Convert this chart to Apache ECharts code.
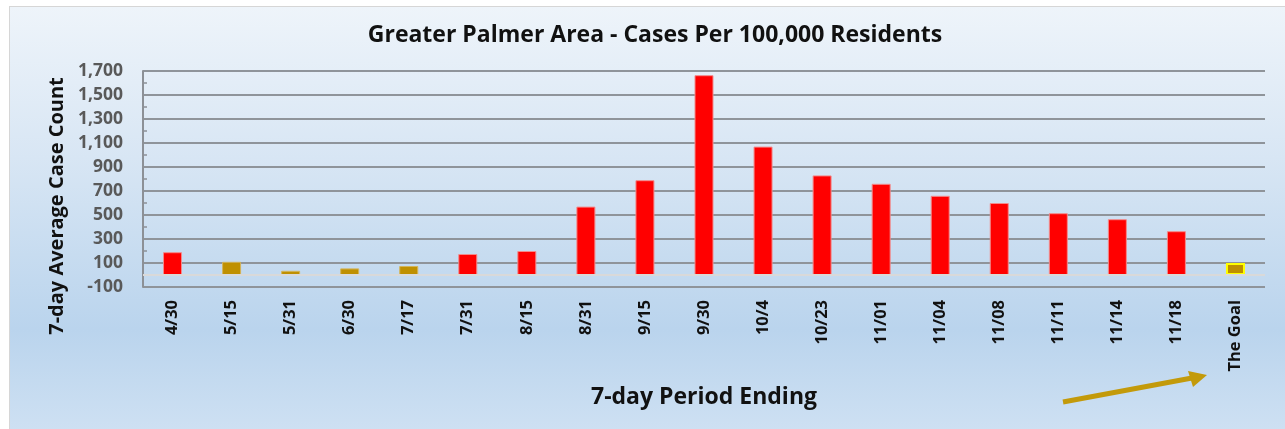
<!DOCTYPE html>
<html>
<head>
<meta charset="utf-8">
<script src="https://cdn.jsdelivr.net/npm/echarts@6/dist/echarts.min.js"></script>
<style>
  html, body { margin: 0; padding: 0; background: #ffffff; width: 1285px; height: 429px; overflow: hidden; }
  #bg { position: absolute; left: 9px; top: 6px; width: 1290px; height: 430px; border: 1px solid #d6d6d6;
        background: linear-gradient(to bottom, #eef4fa 0%, #d8e6f4 35%, #bad4ed 75%, #cfe1f3 100%); }
  #chart { position: absolute; left: 0; top: 0; width: 1285px; height: 429px; }
</style>
</head>
<body>
<div id="bg"></div>
<div id="chart"></div>
<script>
const categories = ['4/30','5/15','5/31','6/30','7/17','7/31','8/15','8/31','9/15','9/30','10/4','10/23','11/01','11/04','11/08','11/11','11/14','11/18','The Goal'];
const caseValues = [190,110,35,55,75,175,200,570,790,1665,1070,830,760,660,600,515,465,365,100];
const levels = ['high','low','low','low','low','high','high','high','high','high','high','high','high','high','high','high','high','high','goal'];
const yTicks = { min: -100, max: 1700, interval: 200 };

const styleByLevel = {
  high: { color: '#ff0000', borderColor: '#f28b8b', borderWidth: 1 },
  low:  { color: '#bf9000', borderColor: '#d3b45a', borderWidth: 1 },
  goal: { color: '#bf9000', borderColor: '#ffff00', borderWidth: 2 }
};

const chart = echarts.init(document.getElementById('chart'), null, { renderer: 'canvas' });
const FONT = '"Open Sans", Lato, sans-serif';

chart.setOption({
  backgroundColor: 'transparent',
  animation: false,
  title: {
    text: 'Greater Palmer Area - Cases Per 100,000 Residents',
    left: 650, top: 19, textAlign: 'center',
    textStyle: { fontFamily: FONT, fontWeight: 'bold', fontSize: 23, color: '#111111' }
  },
  grid: { left: 143, right: 20, top: 71, bottom: 142 },
  xAxis: {
    type: 'category',
    data: categories,
    name: '7-day Period Ending',
    nameLocation: 'middle',
    nameGap: 99,
    nameTextStyle: { fontFamily: FONT, fontWeight: 'bold', fontSize: 23, color: '#111111' },
    axisLine: { show: false },
    axisTick: { show: false },
    axisLabel: { rotate: 90, margin: 13, interval: 0, fontFamily: FONT, fontWeight: 'bold', fontSize: 16.5, color: '#111111' }
  },
  yAxis: {
    type: 'value',
    min: yTicks.min, max: yTicks.max, interval: yTicks.interval,
    axisLine: { show: true, lineStyle: { color: '#8c9096', width: 2 } },
    axisTick: { show: false, inside: true },
    minorTick: { show: true, splitNumber: 2, length: 4, lineStyle: { color: '#8c9096', width: 1.5 } },
    splitLine: { show: true, lineStyle: { color: '#8f949a', width: 2 } },
    axisLabel: {
      margin: 20, fontFamily: FONT, fontWeight: 'bold', fontSize: 17.5, color: '#595959',
      formatter: v => v.toLocaleString('en-US')
    }
  },
  graphic: [
    {
      type: 'text', x: 57, y: 206, rotation: Math.PI / 2,
      style: { text: '7-day Average Case Count', fontFamily: FONT, fontWeight: 'bold', fontSize: 20,
               fill: '#111111', align: 'center', verticalAlign: 'middle' }
    },
    {
      type: 'line', shape: { x1: 1063, y1: 402, x2: 1192, y2: 378 },
      style: { stroke: '#c39a0a', lineWidth: 5 }
    },
    {
      type: 'polygon', shape: { points: [[1207, 375], [1188, 371], [1193, 387]] },
      style: { fill: '#c39a0a' }
    }
  ],
  series: [{
    type: 'bar',
    barWidth: 19,
    data: caseValues.map((v, i) => ({ value: v, itemStyle: styleByLevel[levels[i]] })),
    markLine: {
      silent: true, symbol: 'none', label: { show: false },
      lineStyle: { color: '#d9d9d9', type: 'solid', width: 2 },
      data: [{ yAxis: 0 }]
    }
  }]
});
</script>
</body>
</html>
